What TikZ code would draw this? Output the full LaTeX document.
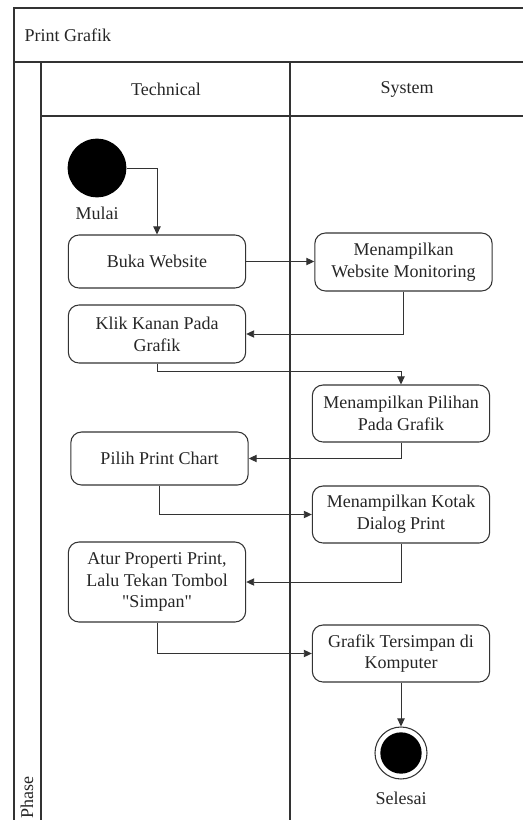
\documentclass[tikz,border=0pt]{standalone}
\usepackage{fontspec}
\setmainfont{Liberation Serif}[Ligatures=TeXOff]
\usetikzlibrary{arrows.meta}
\begin{document}
\begin{tikzpicture}[x=0.75pt,y=-0.75pt,
  every node/.style={font=\fontsize{13.5pt}{16.3pt}\selectfont, text=black!85},
  frame/.style={draw=black!80, line width=0.9pt},
  act/.style={draw=black!80, line width=0.8pt, rounded corners=8pt, align=center,
              minimum width=133pt, inner sep=2pt},
  flow/.style={draw=black!80, line width=0.7pt, -{Triangle[length=6pt,width=5.5pt]}},
  startdot/.style={circle, fill=black, minimum size=44pt, inner sep=0pt},
  enddot/.style={circle, draw=black!80, line width=0.8pt, fill=white, minimum size=39pt, inner sep=0pt,
                 path picture={\fill[black] (path picture bounding box.center) circle (15.5pt);}}
]
\useasboundingbox (0,0) rectangle (523,820);

% swimlane frame
\draw[frame] (14,8) rectangle (530,830);
\draw[frame] (14,62) -- (530,62);
\draw[frame] (41,62) -- (41,830);
\draw[frame] (41,116) -- (530,116);
\draw[frame] (290,62) -- (290,830);

\node[anchor=west] (title) at (20,35) {Print Grafik};
\node (laneA) at (166,89) {Technical};
\node (laneB) at (407,89) {System};
\node[rotate=90, anchor=base west, inner sep=0pt] (phase) at (33,819) {Phase};

% activities
\node[startdot] (start) at (97,168) {};
\node (mulai) at (97,213) {Mulai};

\node[act, minimum height=39.75pt] (buka) at (157,261.5) {Buka Website};
\node[act, minimum height=43.5pt] (mwm) at (403.5,262) {Menampilkan\\Website Monitoring};
\node[act, minimum height=43.5pt] (klik) at (157,334) {Klik Kanan Pada\\Grafik};
\node[act, minimum height=42.75pt] (pilihan) at (401,413.5) {Menampilkan Pilihan\\Pada Grafik};
\node[act, minimum height=39.75pt] (pilih) at (159.5,458.5) {Pilih Print Chart};
\node[act, minimum height=42.75pt] (kotak) at (401,514.5) {Menampilkan Kotak\\Dialog Print};
\node[act, minimum height=60pt] (atur) at (157,582) {Atur Properti Print,\\Lalu Tekan Tombol\\"Simpan"};
\node[act, minimum height=42.75pt] (simpan) at (401,653.5) {Grafik Tersimpan di\\Komputer};

\node[enddot] (finish) at (401,753) {};
\node (selesai) at (401,798) {Selesai};

% control flow
\draw[flow] (start.east) -| (buka.north);
\draw[flow] (buka.east) -- (mwm.west |- buka.east);
\draw[flow] (mwm.south) |- (klik.east);
\draw[flow] (klik.south) -- ++(0,8) -| (pilihan.north);
\draw[flow] (pilihan.south) |- (pilih.east);
\draw[flow] (pilih.south) |- (kotak.west);
\draw[flow] (kotak.south) |- (atur.east);
\draw[flow] (atur.south) |- (simpan.west);
\draw[flow] (simpan.south) -- (finish.north);
\end{tikzpicture}
\end{document}
